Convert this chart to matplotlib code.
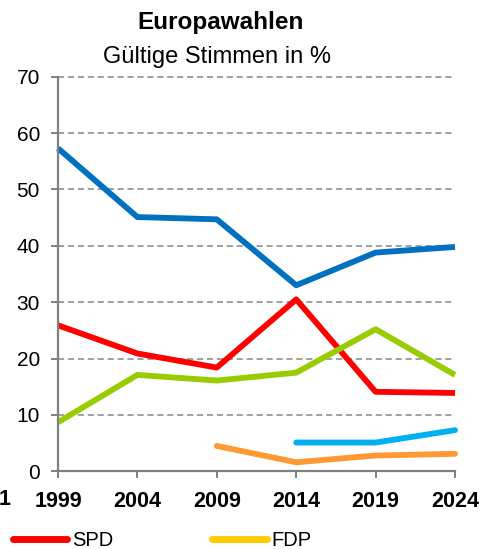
import numpy as np
import matplotlib.pyplot as plt
from matplotlib.lines import Line2D

plt.rcParams['font.family'] = ['Liberation Sans', 'DejaVu Sans']

years = [1999, 2004, 2009, 2014, 2019, 2024]
cdu = [57.3, 45.1, 44.7, 33.0, 38.8, 39.8]
spd = [25.9, 20.9, 18.4, 30.5, 14.1, 13.9]
gruene = [8.7, 17.1, 16.1, 17.5, 25.2, 17.1]
afd_years = [2014, 2019, 2024]
afd = [5.1, 5.1, 7.3]
fw_years = [2009, 2014, 2019, 2024]
fw = [4.5, 1.6, 2.8, 3.1]
yticks = np.arange(0, 80, 10)

fig = plt.figure(figsize=(4.95, 5.49), dpi=100)
ax = fig.add_axes([58/495, 1-471.3/549, (455-58)/495, (471.3-76.7)/549])

lw = 4.2
ax.plot(years, cdu, color='#0070C0', lw=lw, solid_capstyle='butt')
ax.plot(years, spd, color='#FF0000', lw=lw, solid_capstyle='butt')
ax.plot(years, gruene, color='#99CC00', lw=lw, solid_capstyle='butt')
ax.plot(afd_years, afd, color='#00B0F0', lw=lw, solid_capstyle='round')
ax.plot(fw_years, fw, color='#FF9933', lw=lw, solid_capstyle='round')

ax.set_xlim(1999, 2024)
ax.set_ylim(0, 70)
ax.set_xticks(years)
ax.set_xticklabels([str(y) for y in years], fontsize=15.5, fontweight='bold')
ax.set_yticks(yticks)
ax.set_yticklabels([str(v) for v in yticks], fontsize=15)
for v in yticks[1:]:
    ax.axhline(v, color='#868686', lw=1.1, ls=(0, (4, 2.5)), zorder=0)

for s in ['top', 'right']:
    ax.spines[s].set_visible(False)
for s in ['left', 'bottom']:
    ax.spines[s].set_color('#808080')
    ax.spines[s].set_linewidth(1.6)
ax.tick_params(axis='y', length=5, width=1.4, color='#808080', pad=8)
ax.tick_params(axis='x', length=5, width=1.4, color='#808080', pad=9)
ax.patch.set_visible(False)
for line in ax.get_lines():
    line.set_clip_on(False)

fig.text(221/495, 1-29/549, 'Europawahlen', ha='center', va='baseline',
         fontsize=17.5, fontweight='bold')
fig.text(217/495, 1-63/549, 'Gültige Stimmen in %', ha='center', va='baseline',
         fontsize=17)
fig.text(-1/495, 1-505/549, '1', ha='left', va='baseline', fontsize=15.5, fontweight='bold')

handles = [Line2D([], [], color='#FF0000', lw=5, solid_capstyle='round'),
           Line2D([], [], color='#FFCC00', lw=5, solid_capstyle='round')]
fig.legend(handles, ['SPD', 'FDP'], loc='center left', bbox_to_anchor=(13/495, 1-541/549),
           ncol=2, frameon=False, fontsize=14.5, handlelength=2.7, handletextpad=0.25,
           columnspacing=4.9, borderpad=0, borderaxespad=0)

fig.savefig('out.png', dpi=100)
